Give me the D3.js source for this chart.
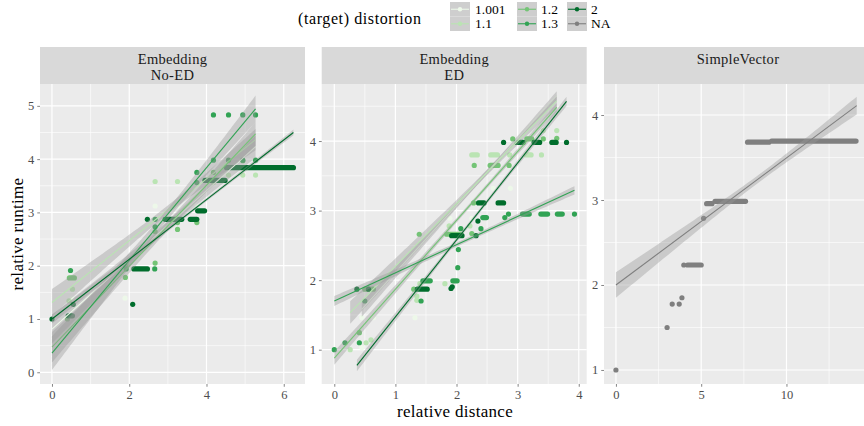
<!DOCTYPE html>
<html><head><meta charset="utf-8">
<script src="https://cdn.jsdelivr.net/npm/d3@7"></script>
<style>body{margin:0;background:#fff} svg{display:block} text{font-family:"Liberation Serif","DejaVu Serif",serif}</style>
</head><body><svg id="c" width="864" height="426"></svg>
<script>
// ---------------- data ----------------
const groups = ["1.001", "1.1", "1.2", "1.3", "2", "NA"];
const groupColors = ["#edf8e9", "#bae4b3", "#74c476", "#31a354", "#006d2c", "#7f7f7f"];
const panelNames = [["Embedding", "No-ED"], ["Embedding", "ED"], ["SimpleVector"]];
const xTicks = [[0, 2, 4, 6], [0, 1, 2, 3, 4], [0, 5, 10]];
const yTicks = [[0, 1, 2, 3, 4, 5], [1, 2, 3, 4], [1, 2, 3, 4]];
const xMinor = [[1, 3, 5], [0.5, 1.5, 2.5, 3.5], [2.5, 7.5, 12.5]];
const yMinor = [[0.5, 1.5, 2.5, 3.5, 4.5], [1.5, 2.5, 3.5, 4.5], [1.5, 2.5, 3.5]];
const xDomains = [[-0.31, 6.55], [-0.206, 4.13], [-0.70, 14.84]];
const yDomains = [[-0.22, 5.41], [0.507, 4.82], [0.835, 4.365]];
const xTitle = "relative distance";
const yTitle = "relative runtime";
const legendTitle = "(target) distortion";

// single points: [panel, group, x, y]
const points = [
  // Embedding No-ED
  [0,"1.001",0.51,1.38],[0,"1.001",1.89,1.39],[0,"1.001",1.92,2.04],[0,"1.001",2.67,3.12],[0,"1.001",3.25,3.12],[0,"1.001",3.75,3.12],
  [0,"1.1",0.44,1.34],[0,"1.1",0.53,1.56],[0,"1.1",1.93,2.03],[0,"1.1",2.67,3.58],[0,"1.1",3.25,3.58],[0,"1.1",4.18,3.56],
  [0,"1.1",4.57,3.70],[0,"1.1",4.94,3.70],[0,"1.1",5.27,3.70],
  [0,"1.2",0.40,1.0],[0,"1.2",1.90,1.78],[0,"1.2",1.90,2.0],[0,"1.2",2.67,2.05],[0,"1.2",2.67,2.64],[0,"1.2",3.25,2.81],
  [0,"1.2",3.25,2.68],[0,"1.2",3.75,2.81],[0,"1.2",4.18,3.75],[0,"1.2",4.94,3.97],
  [0,"1.3",0.48,1.91],[0,"1.3",1.92,1.94],[0,"1.3",2.66,1.94],[0,"1.3",2.67,2.87],[0,"1.3",2.67,2.73],[0,"1.3",3.75,3.75],
  [0,"1.3",3.75,3.56],[0,"1.3",4.18,4.83],[0,"1.3",4.57,4.83],[0,"1.3",4.94,4.83],[0,"1.3",5.27,4.83],
  [0,"1.3",4.18,3.98],[0,"1.3",4.57,3.98],[0,"1.3",4.94,3.98],[0,"1.3",5.27,3.98],
  [0,"2",0.0,1.0],[0,"2",0.55,1.275],[0,"2",2.09,1.275],[0,"2",2.47,2.87],
  // Embedding ED
  [1,"1.001",0.45,1.03],[1,"1.001",0.45,1.46],[1,"1.001",0.64,1.46],[1,"1.001",1.32,1.46],[1,"1.001",1.89,2.89],
  [1,"1.001",2.25,2.89],[1,"1.001",2.60,3.32],[1,"1.001",2.88,3.32],
  [1,"1.1",0.26,1.0],[1,"1.1",0.52,1.10],[1,"1.1",0.60,1.14],[1,"1.1",1.40,1.95],[1,"1.1",1.35,1.77],[1,"1.1",1.35,1.71],
  [1,"1.1",1.81,1.95],[1,"1.1",1.88,2.78],[1,"1.1",2.22,2.78],[1,"1.1",2.87,3.80],[1,"1.1",3.39,3.80],[1,"1.1",3.42,4.15],[1,"1.1",3.64,4.15],
  [1,"1.2",0.41,1.245],[1,"1.2",1.30,1.87],[1,"1.2",1.39,2.66],[1,"1.2",2.25,2.67],[1,"1.2",2.28,3.11],[1,"1.2",2.29,3.65],
  [1,"1.2",2.86,3.65],[1,"1.2",2.92,4.03],[1,"1.2",3.42,4.03],[1,"1.2",3.64,4.04],
  [1,"1.3",0.0,1.0],[1,"1.3",0.175,1.10],[1,"1.3",0.41,1.10],[1,"1.3",0.50,1.70],[1,"1.3",1.42,1.70],[1,"1.3",2.02,2.18],
  [1,"1.3",2.03,2.44],[1,"1.3",2.07,2.74],[1,"1.3",2.40,2.74],[1,"1.3",2.79,2.90],[1,"1.3",2.85,2.95],[1,"1.3",3.93,2.95],
  [1,"2",0.37,1.87],[1,"2",0.56,1.87],[1,"2",1.91,1.88],[1,"2",1.93,1.905],[1,"2",2.32,2.64],[1,"2",2.35,2.85],
  [1,"2",2.77,3.98],[1,"2",3.80,3.98],
  // SimpleVector
  [2,"NA",0.0,1.0],[2,"NA",3.0,1.5],[2,"NA",3.30,1.776],[2,"NA",3.71,1.776],[2,"NA",3.87,1.85],[2,"NA",3.98,2.235],[2,"NA",5.14,2.785]
];

// runs of overlapping points at one runtime: [panel, group, xStart, xEnd, y]
const runs = [
  [0,"1.2",0.45,0.58,1.77],
  [0,"2",0.42,0.53,1.06],[0,"2",2.12,2.47,1.94],[0,"2",2.93,3.36,2.87],[0,"2",3.58,3.75,2.87],
  [0,"2",3.77,3.95,3.03],[0,"2",3.96,4.48,3.60],[0,"2",4.52,6.25,3.84],
  [1,"1.1",2.25,2.34,3.80],[1,"1.1",2.56,2.67,3.80],[1,"1.1",3.14,3.22,3.80],
  [1,"1.2",0.50,0.64,1.87],[1,"1.2",1.84,2.06,2.66],[1,"1.2",2.55,2.68,3.65],[1,"1.2",3.15,3.23,4.03],
  [1,"1.3",1.45,1.57,1.99],[1,"1.3",1.94,2.01,1.99],[1,"1.3",2.43,2.49,2.90],[1,"1.3",3.08,3.19,2.95],
  [1,"1.3",3.38,3.49,2.95],[1,"1.3",3.65,3.73,2.95],
  [1,"2",1.36,1.52,1.87],[1,"2",1.92,2.09,2.64],[1,"2",2.36,2.45,3.11],[1,"2",2.68,2.77,3.11],
  [1,"2",2.98,3.09,3.98],[1,"2",3.27,3.36,3.98],[1,"2",3.56,3.63,3.98],
  [2,"NA",4.20,5.00,2.235],[2,"NA",5.32,5.63,2.957],[2,"NA",5.81,7.60,2.985],[2,"NA",7.72,8.97,3.68],[2,"NA",9.13,14.08,3.694]
];

// linear fits: [panel, group, xStart, xEnd, intercept, slope, seMin, seSlope, xCenter]
const fits = [
  [0,"1.001",0,5.27,0.81,0.65,0.08,0.085,3.0],
  [0,"1.1",0,5.27,1.31,0.58,0.08,0.08,3.0],
  [0,"1.2",0,5.27,0.47,0.76,0.09,0.09,3.0],
  [0,"1.3",0,5.27,0.36,0.87,0.10,0.10,3.0],
  [0,"2",0,6.25,1.0,0.56,0.03,0.02,4.0],
  [1,"1.001",0.45,3.64,1.146,0.963,0.03,0.05,2.5],
  [1,"1.1",0.26,3.64,1.30,0.90,0.04,0.07,2.5],
  [1,"1.2",0,3.64,0.88,0.99,0.03,0.04,2.3],
  [1,"1.3",0,3.93,1.70,0.405,0.03,0.03,2.2],
  [1,"2",0.37,3.80,0.364,1.107,0.03,0.04,2.3],
  [2,"NA",0,14.12,2.0,0.1495,0.045,0.0169,8.5]
];

// ---------------- drawing ----------------
const svg = d3.select("#c");
const color = d3.scaleOrdinal().domain(groups).range(groupColors);
const panelX = [[40, 305], [321.7, 586.7], [604, 869]];
const panelTop = 84, panelBottom = 384, stripTop = 47;
const R = 2.6;

const defs = svg.append("defs");

panelX.forEach((px, p) => {
  const x = d3.scaleLinear().domain(xDomains[p]).range(px);
  const y = d3.scaleLinear().domain(yDomains[p]).range([panelBottom, panelTop]);
  const g = svg.append("g");
  defs.append("clipPath").attr("id", "clip" + p).append("rect")
    .attr("x", px[0]).attr("y", panelTop).attr("width", px[1] - px[0]).attr("height", panelBottom - panelTop);

  // strip
  g.append("rect").attr("x", px[0]).attr("y", stripTop).attr("width", px[1] - px[0]).attr("height", panelTop - stripTop).attr("fill", "#d9d9d9");
  const cx = (px[0] + px[1]) / 2;
  panelNames[p].forEach((t, i) => {
    g.append("text").attr("x", p === 2 ? (px[0] + 864) / 2 + 4 : cx).attr("y", 64 + i * 15.5).attr("text-anchor", "middle")
      .attr("font-size", 14.5).attr("letter-spacing", 0.3).attr("fill", "#1a1a1a").text(t);
  });

  // panel background
  g.append("rect").attr("x", px[0]).attr("y", panelTop).attr("width", px[1] - px[0]).attr("height", panelBottom - panelTop).attr("fill", "#ebebeb");
  const grid = g.append("g").attr("stroke", "#fff");
  xMinor[p].forEach(v => grid.append("line").attr("x1", x(v)).attr("x2", x(v)).attr("y1", panelTop).attr("y2", panelBottom).attr("stroke-width", 0.6));
  yMinor[p].forEach(v => grid.append("line").attr("y1", y(v)).attr("y2", y(v)).attr("x1", px[0]).attr("x2", px[1]).attr("stroke-width", 0.6));
  xTicks[p].forEach(v => grid.append("line").attr("x1", x(v)).attr("x2", x(v)).attr("y1", panelTop).attr("y2", panelBottom).attr("stroke-width", 1.2));
  yTicks[p].forEach(v => grid.append("line").attr("y1", y(v)).attr("y2", y(v)).attr("x1", px[0]).attr("x2", px[1]).attr("stroke-width", 1.2));

  // axes
  const ax = d3.axisBottom(x).tickValues(xTicks[p]).tickSize(2.75).tickPadding(3).tickFormat(d3.format("d"));
  const axg = svg.append("g").attr("transform", `translate(0,${panelBottom})`).call(ax);
  const ay = d3.axisLeft(y).tickValues(yTicks[p]).tickSize(2.75).tickPadding(3).tickFormat(d3.format("d"));
  const ayg = svg.append("g").attr("transform", `translate(${px[0]},0)`).call(ay);
  [axg, ayg].forEach(a => {
    a.select(".domain").remove();
    a.selectAll(".tick line").attr("stroke", "#333").attr("stroke-width", 0.6);
    a.selectAll(".tick text").attr("fill", "#4d4d4d").attr("font-size", 12.5).attr("font-family", '"Liberation Serif",serif');
  });

  const content = svg.append("g").attr("clip-path", `url(#clip${p})`);
  // points layer (groups in order)
  groups.forEach(gr => {
    runs.filter(r => r[0] === p && r[1] === gr).forEach(r => {
      content.append("line").attr("x1", x(r[2])).attr("x2", x(r[3])).attr("y1", y(r[4])).attr("y2", y(r[4]))
        .attr("stroke", color(gr)).attr("stroke-width", 2 * R).attr("stroke-linecap", "round");
    });
    points.filter(d => d[0] === p && d[1] === gr).forEach(d => {
      content.append("circle").attr("cx", x(d[2])).attr("cy", y(d[3])).attr("r", R).attr("fill", color(gr));
    });
  });
  // smooth layer
  fits.filter(f => f[0] === p).forEach(f => {
    const [, gr, x0, x1, b0, b1, a, b, xc] = f;
    const xs = d3.range(0, 81).map(i => x0 + (x1 - x0) * i / 80);
    const hw = v => Math.sqrt(a * a + (b * (v - xc)) ** 2);
    const area = d3.area().x(v => x(v)).y0(v => y(b0 + b1 * v - hw(v))).y1(v => y(b0 + b1 * v + hw(v)));
    content.append("path").attr("d", area(xs)).attr("fill", "#999999").attr("fill-opacity", 0.4);
    content.append("line").attr("x1", x(x0)).attr("x2", x(x1)).attr("y1", y(b0 + b1 * x0)).attr("y2", y(b0 + b1 * x1))
      .attr("stroke", color(gr)).attr("stroke-width", 1.1);
  });
});

// axis titles
svg.append("text").attr("x", 455).attr("y", 417).attr("text-anchor", "middle").attr("font-size", 17).attr("letter-spacing", 0.3).attr("fill", "#000").text(xTitle);
svg.append("text").attr("transform", "translate(23,234) rotate(-90)").attr("text-anchor", "middle").attr("font-size", 17).attr("letter-spacing", 0.3).attr("fill", "#000").text(yTitle);

// legend
svg.append("text").attr("x", 298).attr("y", 23.5).attr("font-size", 16).attr("letter-spacing", 0.6).attr("fill", "#000").text(legendTitle);
const keyX = [450, 517, 567], labX = [475, 541, 591], keyY = [2, 16.5];
groups.forEach((gr, i) => {
  const c = Math.floor(i / 2), r = i % 2;
  const kx = keyX[c], ky = keyY[r];
  svg.append("rect").attr("x", kx).attr("y", ky).attr("width", 20).attr("height", 14.5).attr("fill", "#cecece");
  svg.append("line").attr("x1", kx + 1).attr("x2", kx + 19).attr("y1", ky + 7.25).attr("y2", ky + 7.25).attr("stroke", color(gr)).attr("stroke-width", 1.1);
  svg.append("circle").attr("cx", kx + 10).attr("cy", ky + 7.25).attr("r", 2.2).attr("fill", color(gr));
  svg.append("text").attr("x", labX[c]).attr("y", ky + 11.8).attr("font-size", 13.5).attr("fill", "#000").text(gr);
});
</script></body></html>
